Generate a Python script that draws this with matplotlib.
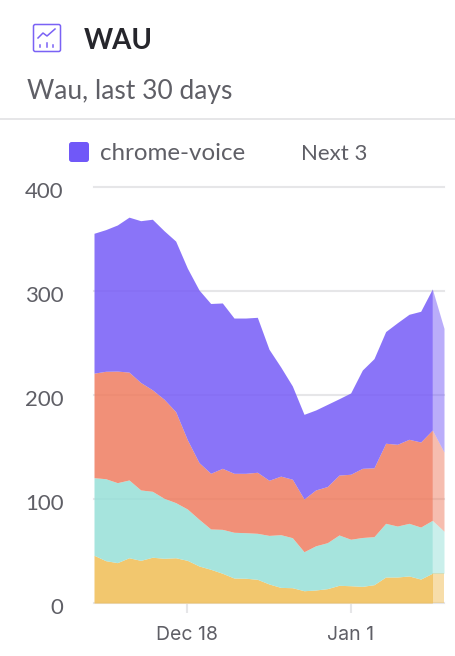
import numpy as np
import matplotlib
matplotlib.use("Agg")
import matplotlib.pyplot as plt
from matplotlib.patches import FancyBboxPatch, Rectangle
from matplotlib.transforms import ScaledTranslation

W, H = 456, 656
days = np.arange(31)
y_ticks = [0, 100, 200, 300, 400]
x_tick_days = [8, 22]
x_tick_labels = ["Dec 18", "Jan 1"]
title = "WAU"
subtitle = "Wau, last 30 days"
legend_labels = ["chrome-voice", "Next 3"]

top_yellow = [45.9,40.7,38.8,43.5,41,44,43,43.5,41,35.6,32.4,28.6,24,23.8,22.8,18.3,15,14.7,11.8,12.5,13.8,17,16.6,16,17.6,25,25,26,23,28.6,28.6]
top_teal = [120.5,119.5,115.7,118.3,108.7,107.4,100.7,96.5,90.4,80.5,71.2,70.8,68,67.6,67,65,65.7,62.8,49.3,55,58,65.4,61.3,63,63.8,76.6,74,76.6,73,79.5,69]
top_orange = [221,222.8,223,222,212,205,196,184,157,135,124.7,129.5,124.7,124.7,125.7,118,122,119,100,108.7,112,123,123.8,129.5,130,153.6,152.6,157.4,154.8,166.3,145]
top_purple = [355.5,359,363.5,371,367.6,369,358,348,322,301,288,288.5,274,274,274.7,244,227,208.7,181.4,185.6,191,196.4,202,224,235,261,269.5,277.6,280.5,302,264]

fig = plt.figure(figsize=(W/100, H/100), dpi=100, facecolor="white")
def fx(p): return p/W
def fy(p): return 1-p/H

GRID = "#e6e6e8"
TXT = "#5f5f66"
FONT = "Lato"

ax = fig.add_axes([fx(94), fy(603), fx(444)-fx(94), fy(187)-fy(603)])
ax.set_xlim(0, 30); ax.set_ylim(0, 400)
ax.set_facecolor("none")
for s in ax.spines.values(): s.set_visible(False)
ax.grid(False)
for v in y_ticks:
    ax.axhline(v, color=GRID, lw=1.5, zorder=1, clip_on=False)

bands = [
    (np.zeros(31), top_yellow, (240/255,189/255,85/255)),
    (top_yellow, top_teal, (151/255,224/255,216/255)),
    (top_teal, top_orange, (239/255,125/255,96/255)),
    (top_orange, top_purple, (118/255,92/255,247/255)),
]
for lo, hi, col in bands:
    ax.fill_between(days[:30], lo[:30], hi[:30], color=col, alpha=0.85, lw=0, zorder=2)
    ax.fill_between(days[29:], lo[29:], hi[29:], color=col, alpha=0.5, lw=0, zorder=2)

ax.set_yticks(y_ticks); ax.set_yticklabels([str(v) for v in y_ticks])
ax.set_xticks(x_tick_days); ax.set_xticklabels(x_tick_labels)
ax.tick_params(axis="y", length=0, pad=22, labelsize=16, labelcolor=TXT)
ax.tick_params(axis="x", length=7.5, width=1.5, color=GRID, pad=9, labelsize=14, labelcolor=TXT)
shift = ScaledTranslation(0, -2.5/72*0.72*1.0, fig.dpi_scale_trans)
for t in ax.get_yticklabels():
    t.set_fontfamily(FONT)
    t.set_transform(t.get_transform() + shift)
for t in ax.get_xticklabels():
    t.set_fontfamily("Inter")

# header
fig.text(fx(84), fy(41), title, fontfamily=FONT, fontweight="bold", fontsize=20, color="#26262c", va="center")
fig.text(fx(27), fy(91), subtitle, fontfamily=FONT, fontsize=19, color=TXT, va="center")
fig.add_artist(Rectangle((0, fy(120)), 1, 2/H, transform=fig.transFigure, color=GRID, lw=0))

# icon
PUR = "#7a62f5"
fig.add_artist(FancyBboxPatch((fx(33.5), fy(51.5)), 27/W, 27/H, boxstyle="round,pad=0,rounding_size=0.004",
                              transform=fig.transFigure, fc="none", ec=PUR, lw=1.1, mutation_aspect=W/H))
fig.add_artist(plt.Line2D([fx(p) for p in (38,43,47,55)], [fy(p) for p in (38,33,36,29)], transform=fig.transFigure, color=PUR, lw=1.1))
for p, y0 in ((40, 45), (47, 43), (53, 45)):
    fig.add_artist(plt.Line2D([fx(p), fx(p)], [fy(y0), fy(47)], transform=fig.transFigure, color=PUR, lw=1.1))

# legend
fig.add_artist(FancyBboxPatch((fx(69), fy(162)), 20/W, 20/H, boxstyle="round,pad=0,rounding_size=0.006",
                              transform=fig.transFigure, fc="#7058f8", ec="none", mutation_aspect=W/H))
fig.text(fx(100), fy(154), legend_labels[0], fontfamily=FONT, fontsize=17.4, color=TXT, va="center")
fig.text(fx(301), fy(154), legend_labels[1], fontfamily=FONT, fontsize=16, color=TXT, va="center")

fig.savefig("out.png", dpi=100)
